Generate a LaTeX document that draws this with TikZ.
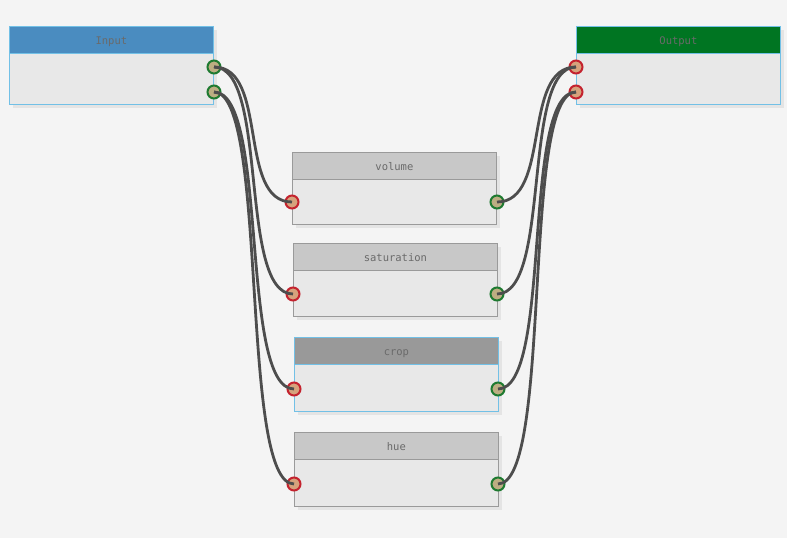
\documentclass[tikz,border=0pt]{standalone}
\usepackage{fontspec}
\setmonofont{DejaVu Sans Mono}
\usepackage{tikz}
\usetikzlibrary{shadows}

\definecolor{bgGray}{HTML}{F4F4F4}
\definecolor{bodyGray}{HTML}{E8E8E8}
\definecolor{headGray}{HTML}{C8C8C8}
\definecolor{headDark}{HTML}{999999}
\definecolor{lineGray}{HTML}{9A9A9A}
\definecolor{lineBlue}{HTML}{72C0E6}
\definecolor{headBlue}{HTML}{4A8CC0}
\definecolor{headGreen}{HTML}{007522}
\definecolor{labelGray}{HTML}{6A6A6A}
\definecolor{inFill}{HTML}{D6A27C}
\definecolor{inRing}{HTML}{C4222E}
\definecolor{outFill}{HTML}{BCAE82}
\definecolor{outRing}{HTML}{1E7A30}
\definecolor{wireGray}{HTML}{4D4D4D}
\definecolor{shadowGray}{HTML}{E4E4E4}

\begin{document}
\begin{tikzpicture}[x=1pt,y=-1pt,
  block/.style={draw=#1, line width=0.8pt, fill=bodyGray, anchor=north west, inner sep=0pt,
    minimum width=204pt, minimum height=74pt,
    drop shadow={shadow xshift=4pt, shadow yshift=-4pt, fill=shadowGray, opacity=1}},
  title/.style={draw=#1, line width=0.8pt, anchor=north, inner sep=0pt,
    minimum width=204pt, minimum height=27pt, text=labelGray, text height=10pt, text depth=0pt,
    font=\ttfamily\fontsize{10.5}{11}\selectfont},
  inport/.style={circle, draw=inRing, fill=inFill, line width=2pt, inner sep=0pt, minimum size=13pt},
  outport/.style={circle, draw=outRing, fill=outFill, line width=2pt, inner sep=0pt, minimum size=13pt},
  wire/.style={draw=wireGray, line width=2.8pt}]

\fill[bgGray] (0,0) rectangle (787,538);
\useasboundingbox (0,0) rectangle (787,538);

% Input and Output
\node[block=lineBlue, minimum height=78pt] (input) at (9,26) {};
\node[title=lineBlue, fill=headBlue] (inputTitle) at (input.north) {Input};
\node[block=lineBlue, minimum height=78pt] (output) at (576,26) {};
\node[title=lineBlue, fill=headGreen] (outputTitle) at (output.north) {Output};

% filters
\node[block=lineGray, minimum height=72pt] (volume) at (292,152) {};
\node[title=lineGray, fill=headGray] (volumeTitle) at (volume.north) {volume};
\node[block=lineGray, minimum height=73pt] (saturation) at (293,243) {};
\node[title=lineGray, fill=headGray] (saturationTitle) at (saturation.north) {saturation};
\node[block=lineBlue, minimum height=74pt] (crop) at (294,337) {};
\node[title=lineBlue, fill=headDark] (cropTitle) at (crop.north) {crop};
\node[block=lineGray, minimum height=74pt] (hue) at (294,432) {};
\node[title=lineGray, fill=headGray] (hueTitle) at (hue.north) {hue};

% ports
\node[outport] (inputOutA) at (214,67) {};
\node[outport] (inputOutB) at (214,92) {};
\node[inport] (outputInA) at (576,67) {};
\node[inport] (outputInB) at (576,92) {};

\node[inport] (volumeIn) at (292,202) {};
\node[outport] (volumeOut) at (497,202) {};
\node[inport] (saturationIn) at (293,294) {};
\node[outport] (saturationOut) at (497,294) {};
\node[inport] (cropIn) at (294,389) {};
\node[outport] (cropOut) at (498,389) {};
\node[inport] (hueIn) at (294,484) {};
\node[outport] (hueOut) at (498,484) {};

% wires
\draw[wire] (inputOutA.center) .. controls +(55,0) and +(-55,0) .. (volumeIn.center);
\draw[wire] (inputOutA.center) .. controls +(55,0) and +(-55,0) .. (saturationIn.center);
\draw[wire] (inputOutB.center) .. controls +(55,0) and +(-55,0) .. (cropIn.center);
\draw[wire] (inputOutB.center) .. controls +(55,0) and +(-55,0) .. (hueIn.center);

\draw[wire] (volumeOut.center) .. controls +(55,0) and +(-55,0) .. (outputInA.center);
\draw[wire] (saturationOut.center) .. controls +(55,0) and +(-55,0) .. (outputInA.center);
\draw[wire] (cropOut.center) .. controls +(55,0) and +(-55,0) .. (outputInB.center);
\draw[wire] (hueOut.center) .. controls +(55,0) and +(-55,0) .. (outputInB.center);
\end{tikzpicture}
\end{document}
